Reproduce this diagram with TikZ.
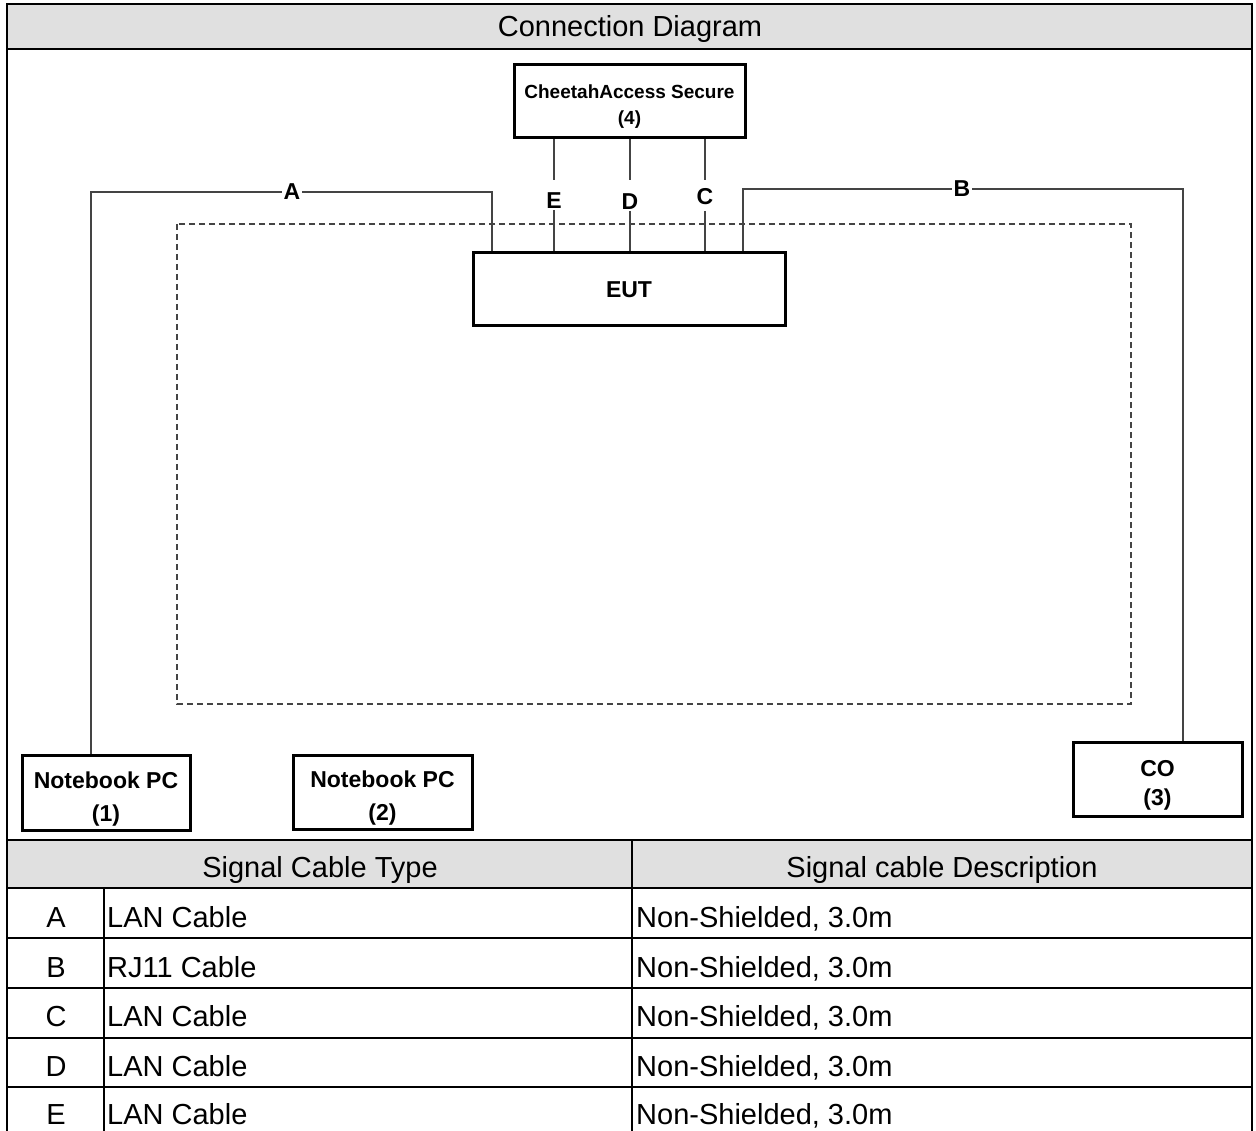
\documentclass[tikz,border=0pt]{standalone}
\usepackage{fontspec}
\setmainfont{Liberation Sans}
\definecolor{hdr}{HTML}{E0E0E0}
\definecolor{cablecol}{HTML}{444444}
\newcommand{\bigstrut}{\rule{0pt}{29pt}}
\newcommand{\smallstrut}{\rule{0pt}{24pt}}
\begin{document}
\begin{tikzpicture}[x=1pt,y=-1pt,
  box/.style={draw=black,line width=3pt,fill=white,inner sep=0pt,align=center,
    font=\bfseries\fontsize{23}{33}\selectfont},
  smallbox/.style={box,font=\bfseries\fontsize{19}{26}\selectfont},
  cable/.style={draw=cablecol,line width=1.6pt},
  lbl/.style={font=\bfseries\fontsize{23}{27}\selectfont,inner sep=1.5pt,fill=white},
  tline/.style={line width=2.5pt,line cap=rect},
  ttext/.style={font=\fontsize{29}{34}\selectfont,anchor=base,inner sep=0pt},
  ltext/.style={ttext,anchor=base west},
  dashbox/.style={draw=cablecol,line width=1.3pt,dash pattern=on 6pt off 4pt}]
\useasboundingbox (0,0) rectangle (1256,1131);
% header fills
\fill[hdr] (7,4) rectangle (1252,49);
\fill[hdr] (7,840) rectangle (1252,888);
% frame and table lines
\draw[tline] (7,4) rectangle (1252,1137);
\draw[tline] (7,49) -- (1252,49);
\draw[tline] (7,840) -- (1252,840);
\draw[tline] (7,888) -- (1252,888);
\draw[tline] (7,938) -- (1252,938);
\draw[tline] (7,988) -- (1252,988);
\draw[tline] (7,1038) -- (1252,1038);
\draw[tline] (7,1087) -- (1252,1087);
\draw[tline] (104,888) -- (104,1137);
\draw[tline] (632,840) -- (632,1137);
% title and table texts
\node[ttext] (title) at (630,37) {Connection Diagram};
\node[ttext] (h1) at (320,877) {Signal Cable Type};
\node[ttext] (h2) at (942,877) {Signal cable Description};
\node[ttext] (rA) at (56,927) {A};
\node[ltext] (tA) at (107,927) {LAN Cable};
\node[ltext] (dA) at (636,927) {Non-Shielded, 3.0m};
\node[ttext] (rB) at (56,977) {B};
\node[ltext] (tB) at (107,977) {RJ11 Cable};
\node[ltext] (dB) at (636,977) {Non-Shielded, 3.0m};
\node[ttext] (rC) at (56,1026) {C};
\node[ltext] (tC) at (107,1026) {LAN Cable};
\node[ltext] (dC) at (636,1026) {Non-Shielded, 3.0m};
\node[ttext] (rD) at (56,1076) {D};
\node[ltext] (tD) at (107,1076) {LAN Cable};
\node[ltext] (dD) at (636,1076) {Non-Shielded, 3.0m};
\node[ttext] (rE) at (56,1124) {E};
\node[ltext] (tE) at (107,1124) {LAN Cable};
\node[ltext] (dE) at (636,1124) {Non-Shielded, 3.0m};
% dashed area
\draw[dashbox] (177,224) rectangle (1131,704);
% boxes
\node[smallbox,minimum width=231,minimum height=73] (ch) at (629.5,101.5) {\smallstrut CheetahAccess Secure\\(4)};
\node[box,minimum width=312,minimum height=73] (eut) at (629,289.5) {EUT};
\node[box,minimum width=168,minimum height=75] (nb1) at (106,792.5) {\bigstrut Notebook PC\\(1)};
\node[box,minimum width=179,minimum height=74] (nb2) at (382.5,792) {\bigstrut Notebook PC\\(2)};
\node[box,minimum width=169,minimum height=74] (co) at (1157.5,779) {\bigstrut CO\\[-4pt](3)};
% cable A
\coordinate (a1) at (91,192);
\coordinate (a2) at (492,192);
\draw[cable] (nb1.north -| a1) -- (a1) -- (a2) -- (eut.north -| a2);
\node[lbl] (lA) at (292,192) {A};
% cable B
\coordinate (b1) at (743,189);
\coordinate (b2) at (1183,189);
\draw[cable] (eut.north -| b1) -- (b1) -- (b2) -- (co.north -| b2);
\node[lbl] (lB) at (962,189) {B};
% cables E, D, C
\node[lbl,fill=none] (lE) at (554,201) {E};
\node[lbl,fill=none] (lD) at (630,202) {D};
\node[lbl,fill=none] (lC) at (705,197) {C};
\coordinate (eT) at (554,180); \coordinate (eB) at (554,210);
\coordinate (dT) at (630,180); \coordinate (dB) at (630,211);
\coordinate (cT) at (705,180); \coordinate (cB) at (705,211);
\draw[cable] (ch.south -| lE) -- (eT);
\draw[cable] (eB) -- (eut.north -| lE);
\draw[cable] (ch.south -| lD) -- (dT);
\draw[cable] (dB) -- (eut.north -| lD);
\draw[cable] (ch.south -| lC) -- (cT);
\draw[cable] (cB) -- (eut.north -| lC);
\end{tikzpicture}
\end{document}
